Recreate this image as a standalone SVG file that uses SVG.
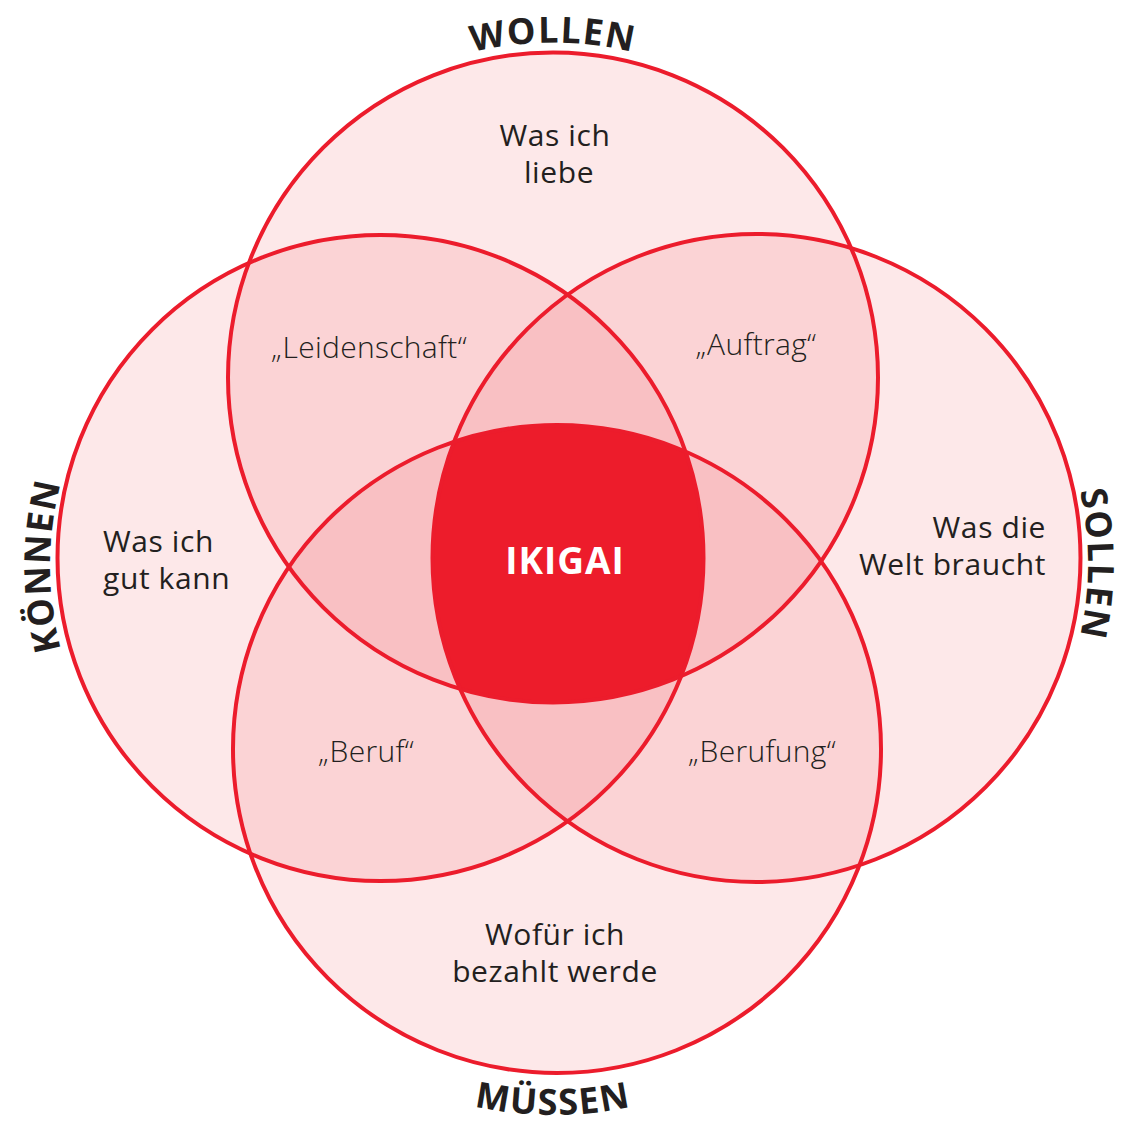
<svg xmlns="http://www.w3.org/2000/svg" width="1124" height="1126" viewBox="0 0 1124 1126">
<style>
.fill{fill:#ed1c24;fill-opacity:0.1;stroke:none}
.ring{fill:none;stroke:#ec1c2c;stroke-width:4}
.t{font-family:"Open Sans","Noto Sans","DejaVu Sans",sans-serif;font-size:30px;fill:#231f20;letter-spacing:0.6px}
.q{font-family:"Open Sans","Noto Sans","DejaVu Sans",sans-serif;font-size:30px;font-weight:300;fill:#231f20;text-anchor:middle;letter-spacing:0.3px}
.arc{font-family:"Open Sans","Noto Sans","DejaVu Sans",sans-serif;font-size:36px;font-weight:700;fill:#231f20;letter-spacing:1.5px}
</style>
<defs>
<clipPath id="cT"><circle cx="553" cy="377.5" r="325"/></clipPath>
<clipPath id="cL"><circle cx="380.5" cy="558" r="323"/></clipPath>
<clipPath id="cR"><circle cx="756.5" cy="558" r="324"/></clipPath>
<path id="pW" d="M 218 377.5 A 335 335 0 0 1 888 377.5"/>
<path id="pK" d="M 380 896 A 330 330 0 0 1 380 236"/>
<path id="pS" d="M 757 233 A 331 331 0 0 1 757 895"/>
<path id="pM" d="M 187 749 A 366 366 0 0 0 919 749"/>
</defs>
<g id="fills">
<circle class="fill" cx="553" cy="377.5" r="325"/>
<circle class="fill" cx="380.5" cy="558" r="323"/>
<circle class="fill" cx="756.5" cy="558" r="324"/>
<circle class="fill" cx="557" cy="749" r="324"/>
</g>
<g id="ikigai-region" clip-path="url(#cT)"><g clip-path="url(#cL)"><g clip-path="url(#cR)"><circle cx="557" cy="749" r="324" fill="#ed1c2b"/></g></g></g>
<g id="connectors">
<circle id="wollen" class="ring" cx="553" cy="377.5" r="325"/>
<circle id="koennen" class="ring" cx="380.5" cy="558" r="323"/>
<circle id="sollen" class="ring" cx="756.5" cy="558" r="324"/>
<circle id="muessen" class="ring" cx="557" cy="749" r="324"/>
</g>
<g id="arc-labels">
<text class="arc"><textPath href="#pW" startOffset="50%" text-anchor="middle">WOLLEN</textPath></text>
<text class="arc"><textPath href="#pK" startOffset="50%" text-anchor="middle">KÖNNEN</textPath></text>
<text class="arc"><textPath href="#pS" startOffset="50%" text-anchor="middle">SOLLEN</textPath></text>
<text class="arc"><textPath href="#pM" startOffset="50%" text-anchor="middle">MÜSSEN</textPath></text>
</g>
<g id="node-top"><text class="t" text-anchor="middle"><tspan x="555" y="146">Was ich</tspan><tspan x="559" y="183">liebe</tspan></text></g>
<g id="node-left"><text class="t"><tspan x="103" y="552">Was ich</tspan><tspan x="103" y="589">gut kann</tspan></text></g>
<g id="node-right"><text class="t" text-anchor="end"><tspan x="1046" y="538">Was die</tspan><tspan x="1046" y="575">Welt braucht</tspan></text></g>
<g id="node-bottom"><text class="t" text-anchor="middle"><tspan x="555" y="945">Wofür ich</tspan><tspan x="555" y="982">bezahlt werde</tspan></text></g>
<g id="node-leidenschaft"><text class="q" x="369" y="358">„Leidenschaft“</text></g>
<g id="node-auftrag"><text class="q" x="756" y="355">„Auftrag“</text></g>
<g id="node-beruf"><text class="q" x="366" y="762">„Beruf“</text></g>
<g id="node-berufung"><text class="q" x="762" y="762">„Berufung“</text></g>
<g id="node-ikigai"><text x="565" y="574" text-anchor="middle" font-family="Open Sans, Noto Sans, sans-serif" font-size="37" font-weight="700" letter-spacing="1" fill="#ffffff">IKIGAI</text></g>
</svg>
